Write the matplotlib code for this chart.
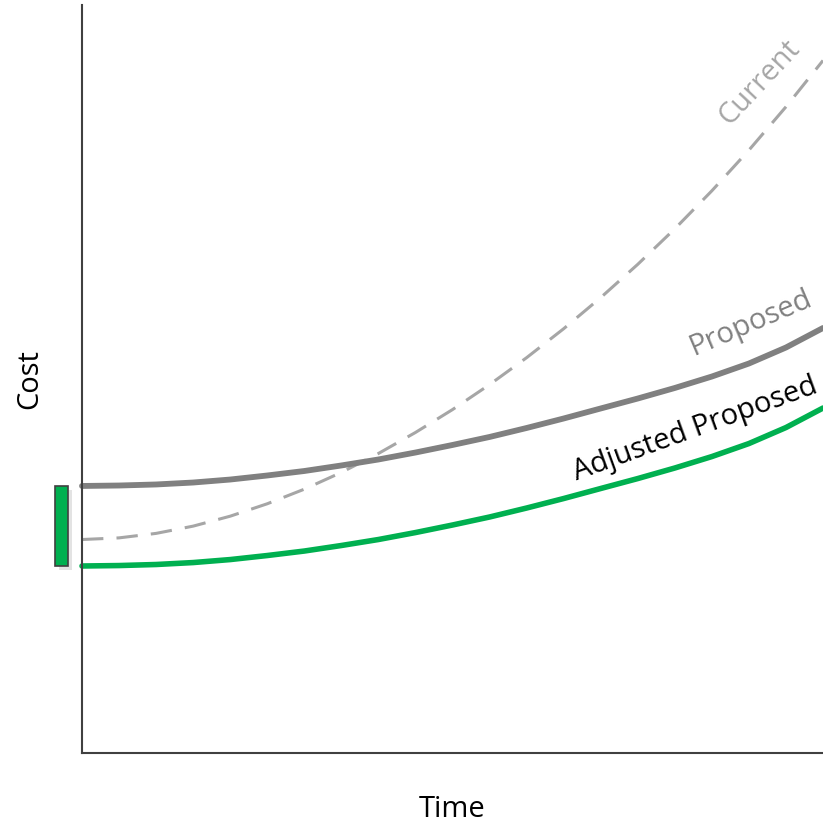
import matplotlib
matplotlib.use("Agg")
import matplotlib.pyplot as plt
from matplotlib.patches import Rectangle

plt.rcParams['font.family'] = ['Open Sans', 'DejaVu Sans']

# values (time 0..10, cost 0..100)
time = [0, 0.5, 1, 1.5, 2, 2.5, 3, 3.5, 4, 4.5, 5,
        5.5, 6, 6.5, 7, 7.5, 8, 8.5, 9, 9.5, 10]
current = [28.54, 28.76, 29.36, 30.33, 31.66, 33.32, 35.27, 37.51, 40.04, 42.85, 45.91,
           49.25, 52.85, 56.72, 60.88, 65.33, 70.08, 75.16, 80.59, 86.39, 92.58]
proposed = [35.70, 35.76, 35.90, 36.16, 36.56, 37.10, 37.70, 38.44, 39.24, 40.17, 41.18,
            42.25, 43.45, 44.72, 46.06, 47.39, 48.80, 50.33, 52.07, 54.21, 56.82]
adjusted = [25.00, 25.06, 25.20, 25.46, 25.86, 26.40, 27.00, 27.74, 28.54, 29.47, 30.48,
            31.55, 32.75, 34.02, 35.36, 36.69, 38.10, 39.63, 41.37, 43.51, 46.12]

fig = plt.figure(figsize=(8.23, 8.25), dpi=100)
ax = fig.add_axes([82 / 823, 72 / 825, 741 / 823, 748 / 825])

ax.plot(time, current, color='#a6a6a6', lw=2.2, dashes=(7, 4.3), clip_on=False)
ax.plot(time, proposed, color='#808080', lw=4.2, solid_capstyle='round',
        solid_joinstyle='round', clip_on=False)
ax.plot(time, adjusted, color='#00b050', lw=4.0, solid_capstyle='round',
        solid_joinstyle='round', clip_on=False)

ax.set_xlim(0, 10)
ax.set_ylim(0, 100)

# little bar showing the gap at the start
bx, bw = -0.364, 0.175
ax.add_patch(Rectangle((bx + 0.055, adjusted[0] - 0.55), bw, proposed[0] - adjusted[0],
                       facecolor='#e3e3e3', edgecolor='none', clip_on=False, zorder=2))
ax.add_patch(Rectangle((bx, adjusted[0]), bw, proposed[0] - adjusted[0],
                       facecolor='#00b050', edgecolor='#404040', lw=1.2,
                       clip_on=False, zorder=3))

ax.text(9.15, 89.6, 'Current', color='#a6a6a6', fontsize=21, rotation=47,
        ha='center', va='center', rotation_mode='anchor')
ax.text(9.02, 57.5, 'Proposed', color='#808080', fontsize=21, rotation=23,
        ha='center', va='center', rotation_mode='anchor')
ax.text(8.28, 43.3, 'Adjusted Proposed', color='black', fontsize=21, rotation=20,
        ha='center', va='center', rotation_mode='anchor')

for s in ['top', 'right']:
    ax.spines[s].set_visible(False)
for s in ['left', 'bottom']:
    ax.spines[s].set_color('#404040')
    ax.spines[s].set_linewidth(1.5)
ax.set_xticks([])
ax.set_yticks([])
ax.set_xlabel('Time', fontsize=21, labelpad=30)
ax.set_ylabel('Cost', fontsize=21, labelpad=27)

fig.savefig('out.png', dpi=100)
